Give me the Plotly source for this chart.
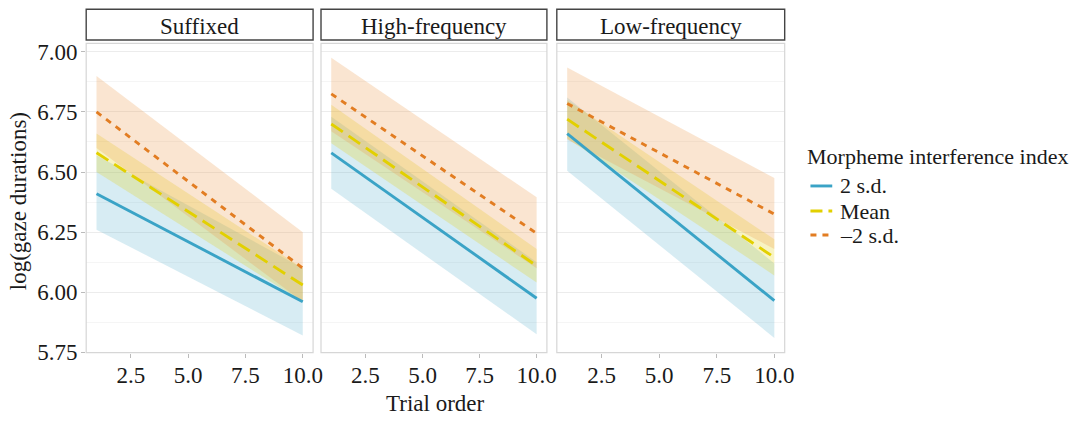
import plotly.graph_objects as go

# ---------------- data ----------------
facets = ["Suffixed", "High-frequency", "Low-frequency"]
levels = ["2 s.d.", "Mean", "\u20132 s.d."]
trial = [1, 10]

# fitted values at trial 1 and trial 10, with lower / upper bounds of the ribbon
suffixed_fit = {"2 s.d.": [6.41, 5.96], "Mean": [6.58, 6.03], "\u20132 s.d.": [6.75, 6.10]}
suffixed_lo = {"2 s.d.": [6.26, 5.82], "Mean": [6.50, 5.96], "\u20132 s.d.": [6.60, 5.96]}
suffixed_hi = {"2 s.d.": [6.57, 6.10], "Mean": [6.66, 6.10], "\u20132 s.d.": [6.90, 6.25]}

highfreq_fit = {"2 s.d.": [6.58, 5.975], "Mean": [6.70, 6.11], "\u20132 s.d.": [6.825, 6.245]}
highfreq_lo = {"2 s.d.": [6.43, 5.825], "Mean": [6.62, 6.04], "\u20132 s.d.": [6.67, 6.10]}
highfreq_hi = {"2 s.d.": [6.73, 6.125], "Mean": [6.78, 6.18], "\u20132 s.d.": [6.975, 6.395]}

lowfreq_fit = {"2 s.d.": [6.66, 5.965], "Mean": [6.72, 6.145], "\u20132 s.d.": [6.785, 6.325]}
lowfreq_lo = {"2 s.d.": [6.505, 5.81], "Mean": [6.64, 6.07], "\u20132 s.d.": [6.635, 6.18]}
lowfreq_hi = {"2 s.d.": [6.81, 6.12], "Mean": [6.80, 6.22], "\u20132 s.d.": [6.935, 6.475]}

y_ticks = [5.75, 6.00, 6.25, 6.50, 6.75, 7.00]
x_ticks = [2.5, 5.0, 7.5, 10.0]

# ---------------- styles ----------------
line_colors = {"2 s.d.": "#3aa3c6", "Mean": "#e2d000", "\u20132 s.d.": "#e27d22"}
fill_colors = {"2 s.d.": "rgba(88,175,206,0.24)", "Mean": "rgba(228,210,20,0.26)",
               "\u20132 s.d.": "rgba(236,150,70,0.25)"}
dashes = {"2 s.d.": "solid", "Mean": "14px,7px", "\u20132 s.d.": "6px,6px"}

W, H = 1083, 432
panels_px = [(87, 316), (324, 552), (562, 792)]
top_px, bot_px = 42, 363
FONT = "Liberation Serif"
TXT = "#1a1a1a"
FS = 23

def px(x):
    return x / W

def py(y):
    return 1 - y / H

data_sets = [(suffixed_fit, suffixed_lo, suffixed_hi),
             (highfreq_fit, highfreq_lo, highfreq_hi),
             (lowfreq_fit, lowfreq_lo, lowfreq_hi)]

fig = go.Figure()

for i, (fit, lo, hi) in enumerate(data_sets):
    xa = "x" if i == 0 else f"x{i+1}"
    ya = "y" if i == 0 else f"y{i+1}"
    for lev in levels:
        fig.add_trace(go.Scatter(
            x=trial + trial[::-1], y=hi[lev] + lo[lev][::-1],
            fill="toself", fillcolor=fill_colors[lev], line=dict(width=0),
            mode="lines", hoverinfo="skip", showlegend=False, xaxis=xa, yaxis=ya))
    for lev in levels:
        fig.add_trace(go.Scatter(
            x=trial, y=fit[lev], mode="lines",
            line=dict(color=line_colors[lev], width=2.9, dash=dashes[lev]),
            showlegend=False, xaxis=xa, yaxis=ya))

layout = dict(
    width=W, height=H, margin=dict(l=0, r=0, t=0, b=0),
    paper_bgcolor="white", plot_bgcolor="white", showlegend=False,
    font=dict(family=FONT, color=TXT),
)

ydom = [py(bot_px), py(top_px)]
for i, (l, r) in enumerate(panels_px):
    sfx = "" if i == 0 else str(i + 1)
    layout["xaxis" + sfx] = dict(
        domain=[px(l), px(r)], range=[0.55, 10.45], anchor="y" + sfx,
        tickvals=x_ticks, ticktext=[f"{v:.1f}" for v in x_ticks],
        ticks="outside", ticklen=4, tickcolor="#bbbbbb", tickwidth=1,
        showgrid=False, zeroline=False, showline=False,
        tickfont=dict(size=FS, color=TXT, family=FONT),
        ticklabelstandoff=-2,
    )
    layout["yaxis" + sfx] = dict(
        domain=ydom, range=[5.749, 7.035], anchor="x" + sfx,
        tickvals=y_ticks, ticktext=[f"{v:.2f}" for v in y_ticks],
        showticklabels=(i == 0), ticks="outside" if i == 0 else "",
        ticklen=4, tickcolor="#bbbbbb", tickwidth=1,
        showgrid=True, gridcolor="#ececec", gridwidth=1,
        minor=dict(dtick=0.125, tick0=5.75, showgrid=True, gridcolor="#f5f5f5", gridwidth=1),
        zeroline=False, showline=False,
        tickfont=dict(size=FS, color=TXT, family=FONT),
        ticklabelstandoff=-1,
    )
    if i > 0:
        layout["yaxis" + sfx]["matches"] = "y"

fig.update_layout(**layout)

shapes = []
annotations = []
for i, (l, r) in enumerate(panels_px):
    # panel border
    shapes.append(dict(type="rect", xref="paper", yref="paper",
                       x0=px(l), x1=px(r), y0=ydom[0], y1=ydom[1],
                       line=dict(color="#d6d6d6", width=1.2), fillcolor="rgba(0,0,0,0)", layer="above"))
    # strip
    shapes.append(dict(type="rect", xref="paper", yref="paper",
                       x0=px(l), x1=px(r), y0=py(38.5), y1=py(6.5),
                       line=dict(color="#444444", width=1.4), fillcolor="white"))
    annotations.append(dict(text=facets[i], xref="paper", yref="paper",
                            x=px((l + r) / 2), y=py(24), showarrow=False,
                            xanchor="center", yanchor="middle",
                            font=dict(size=FS, color=TXT, family=FONT)))

# axis titles
annotations.append(dict(text="Trial order", xref="paper", yref="paper",
                        x=px((87 + 792) / 2), y=py(416), showarrow=False,
                        xanchor="center", yanchor="middle",
                        font=dict(size=FS, color=TXT, family=FONT)))
annotations.append(dict(text="log(gaze durations)", xref="paper", yref="paper",
                        x=px(19), y=py(206), showarrow=False, textangle=-90,
                        xanchor="center", yanchor="middle",
                        font=dict(size=FS, color=TXT, family=FONT)))

# legend (manual)
annotations.append(dict(text="Morpheme interference index", xref="paper", yref="paper",
                        x=px(813), y=py(159), showarrow=False,
                        xanchor="left", yanchor="middle",
                        font=dict(size=22, color=TXT, family=FONT)))
leg_y = [190, 216, 241]
for lev, yy in zip(levels, leg_y):
    shapes.append(dict(type="line", xref="paper", yref="paper",
                       x0=px(818), x1=px(840), y0=py(yy), y1=py(yy),
                       line=dict(color=line_colors[lev], width=2.9,
                                 dash={"2 s.d.": "solid", "Mean": "12px,6px",
                                       "\u20132 s.d.": "6px,6px"}[lev])))
    annotations.append(dict(text=lev, xref="paper", yref="paper",
                            x=px(846), y=py(yy), showarrow=False,
                            xanchor="left", yanchor="middle",
                            font=dict(size=22, color=TXT, family=FONT)))

fig.update_layout(shapes=shapes, annotations=annotations)
fig.write_html("out.html", config={"displayModeBar": False},
               post_script="document.body.style.margin='0';document.body.style.overflow='hidden';")
